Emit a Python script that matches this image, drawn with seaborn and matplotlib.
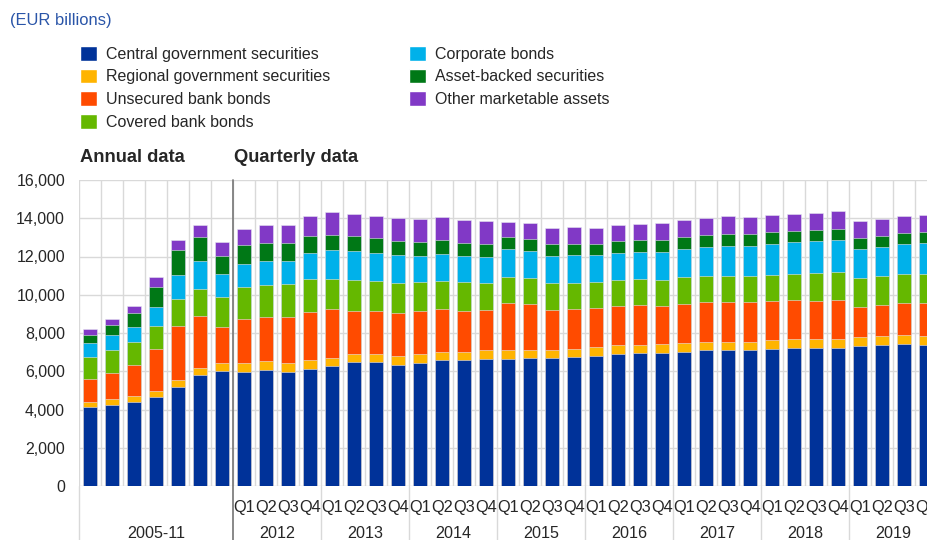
import numpy as np
import pandas as pd
import seaborn as sns
import matplotlib.pyplot as plt
from matplotlib.patches import Patch
from matplotlib.ticker import FuncFormatter

# periods: 7 annual bars, then quarterly 2012-2019
annual_years = ['2005', '2006', '2007', '2008', '2009', '2010', '2011']
quarter_years = ['2012', '2013', '2014', '2015', '2016', '2017', '2018', '2019']
quarters = ['Q1', 'Q2', 'Q3', 'Q4']
periods = annual_years + [y + q for y in quarter_years for q in quarters]

# EUR billions
central = [4140, 4240, 4400, 4630, 5180, 5780, 6020,
           5970, 6070, 5970, 6110, 6280, 6460, 6460, 6350,
           6440, 6565, 6565, 6620, 6650, 6670, 6670, 6720,
           6805, 6910, 6965, 6965, 7015, 7110, 7105, 7105,
           7175, 7225, 7225, 7225, 7300, 7350, 7435, 7380]
regional = [230, 300, 300, 330, 350, 370, 400,
            455, 455, 455, 470, 420, 435, 435, 440,
            455, 435, 435, 470, 455, 435, 435, 420,
            455, 455, 420, 455, 455, 440, 450, 450,
            455, 455, 455, 475, 470, 470, 455, 470]
unsecured = [1200, 1345, 1640, 2180, 2845, 2755, 1900,
             2320, 2320, 2425, 2500, 2535, 2270, 2235, 2270,
             2235, 2235, 2165, 2130, 2450, 2415, 2110, 2110,
             2025, 2025, 2060, 1990, 2050, 2050, 2045, 2045,
             2040, 2025, 2010, 2040, 1600, 1655, 1690, 1700]
covered = [1180, 1205, 1170, 1240, 1380, 1380, 1540,
           1645, 1645, 1695, 1730, 1610, 1595, 1570, 1535,
           1520, 1500, 1485, 1395, 1385, 1380, 1380, 1375,
           1360, 1370, 1360, 1360, 1390, 1360, 1360, 1360,
           1360, 1375, 1430, 1435, 1500, 1485, 1505, 1520]
corporate = [750, 815, 800, 960, 1270, 1480, 1220,
             1235, 1270, 1235, 1390, 1500, 1530, 1500, 1465,
             1390, 1410, 1390, 1385, 1445, 1410, 1430, 1465,
             1445, 1420, 1410, 1480, 1475, 1550, 1590, 1600,
             1640, 1660, 1675, 1710, 1520, 1550, 1585, 1620]
abs_sec = [380, 510, 720, 1050, 1295, 1275, 960,
           995, 945, 910, 890, 800, 800, 785, 765,
           715, 720, 680, 670, 620, 620, 645, 580,
           580, 610, 630, 615, 615, 630, 630, 600,
           595, 610, 605, 575, 590, 575, 575, 575]
other = [310, 315, 370, 555, 525, 630, 715,
         820, 940, 940, 1030, 1170, 1135, 1150, 1175,
         1220, 1185, 1190, 1170, 820, 820, 805, 855,
         840, 840, 855, 870, 890, 880, 960, 905,
         890, 890, 890, 910, 890, 890, 875, 905]

names = ['Central government securities', 'Regional government securities',
         'Unsecured bank bonds', 'Covered bank bonds', 'Corporate bonds',
         'Asset-backed securities', 'Other marketable assets']
colors = ['#003299', '#FFB400', '#FF4B00', '#65B800', '#00B1EA', '#007816', '#8139C6']

df = pd.DataFrame({'period': periods, names[0]: central, names[1]: regional,
                   names[2]: unsecured, names[3]: covered, names[4]: corporate,
                   names[5]: abs_sec, names[6]: other})
stacked = df[names].cumsum(axis=1)

sns.set_style('white')
plt.rcParams['font.family'] = ['Liberation Sans', 'DejaVu Sans']

fig = plt.figure(figsize=(9.28, 5.4), dpi=100)
ax = fig.add_axes([79 / 928, 54 / 540, 858 / 928, 306 / 540])

# draw cumulative totals from the top series down, so they look stacked
for name, col in zip(reversed(names), reversed(colors)):
    sns.barplot(x=df['period'], y=stacked[name], color=col, saturation=1,
                width=0.66, errorbar=None, edgecolor='#e6e6f0', linewidth=0.4, ax=ax)

ax.set_xlim(-0.5, len(periods) - 0.5)
ax.set_ylim(0, 16000)
ax.set_xlabel('')
ax.set_ylabel('')
ax.set_yticks(range(0, 16001, 2000))
ax.yaxis.set_major_formatter(FuncFormatter(lambda v, p: f'{v:,.0f}'))
ax.set_xticks([])
ax.set_xticks(np.arange(-0.5, len(periods)), minor=True)
ax.grid(True, which='major', axis='y', color='#d9d9d9', lw=1)
ax.grid(True, which='minor', axis='x', color='#d9d9d9', lw=1)
ax.set_axisbelow(True)
ax.tick_params(which='both', length=0, labelsize=11.5)
ax.tick_params(axis='y', pad=10)
for s in ax.spines.values():
    s.set_visible(False)

trans = ax.get_xaxis_transform()
n_ann = len(annual_years)
# year separators below the axis
seps = [-0.5] + [n_ann - 0.5 + 4 * k for k in range(1, len(quarter_years))]
for xs in seps:
    ax.plot([xs, xs], [0, -0.18], transform=trans, color='#d9d9d9', lw=1, clip_on=False)
ax.plot([n_ann - 0.5, n_ann - 0.5], [-0.18, 1.0], transform=trans,
        color='#7f7f7f', lw=1.3, clip_on=False)

for i in range(n_ann, len(periods)):
    ax.text(i, -0.069, quarters[(i - n_ann) % 4], transform=trans,
            ha='center', va='center', fontsize=11.8)
ax.text((n_ann - 1) / 2, -0.154, '2005-11', transform=trans,
        ha='center', va='center', fontsize=11.6)
for k, y in enumerate(quarter_years):
    ax.text(n_ann + 4 * k + 1.5, -0.154, y, transform=trans,
            ha='center', va='center', fontsize=11.6)

fig.text(80 / 928, 1 - 157 / 540, 'Annual data', fontsize=13.2, weight='bold', va='center')
fig.text(234 / 928, 1 - 157 / 540, 'Quarterly data', fontsize=13.2, weight='bold', va='center')
fig.text(10 / 928, 1 - 20 / 540, '(EUR billions)', fontsize=11.9, color='#2a55a8', va='center')

handles = [Patch(facecolor=c, label=n) for n, c in zip(names, colors)]
fig.legend(handles=handles, loc='upper left', bbox_to_anchor=(80 / 928, 1 - 46 / 540),
           ncol=2, frameon=False, fontsize=11.5, handlelength=1.05, handleheight=1.05,
           handletextpad=0.6, labelspacing=0.42, columnspacing=4.9,
           borderpad=0, borderaxespad=0)

fig.savefig('out.png', dpi=100)
